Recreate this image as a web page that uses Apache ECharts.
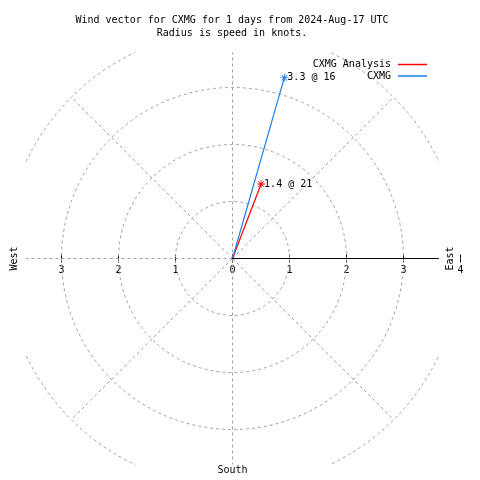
<!DOCTYPE html>
<html>
<head>
<meta charset="utf-8">
<script src="https://cdn.jsdelivr.net/npm/echarts@6/dist/echarts.min.js"></script>
<style>html,body{margin:0;padding:0;background:#fff}#c{width:480px;height:480px}</style>
</head>
<body>
<div id="c"></div>
<script>
// ---- data ----
const seriesNames = ['CXMG Analysis', 'CXMG'];
const windSpeed = [1.4, 3.3];          // knots
const windDir = [21, 16];              // degrees clockwise from north
const seriesColors = ['#ff0000', '#1a80e8'];
const ringValues = [1, 2, 3, 4];       // knots
const spokeAngles = [0, 45, 90, 135, 180, 225, 270, 315];
const tickValues = [-3, -2, -1, 0, 1, 2, 3, 4];
const titleText = 'Wind vector for CXMG for 1 days from 2024-Aug-17 UTC\nRadius is speed in knots.';

// ---- layout ----
const PX = 57;           // pixels per knot
const CX = 232.5, CY = 258.5;
const HALF = 206;        // half size of plotting box (px)
const R = HALF / PX;     // knots shown to box edge
const FONT = 'DejaVu Sans Mono';
const GRID_COLOR = '#a0a0a0';

const chart = echarts.init(document.getElementById('c'), null, {renderer: 'canvas'});

const rad = d => d * Math.PI / 180;

const vectorSeries = seriesNames.map((name, i) => {
  const s = windSpeed[i], d = windDir[i];
  return {
    name: name,
    type: 'line',
    xAxisIndex: 0, yAxisIndex: 0,
    z: 5,
    data: [
      {value: [0, 0], symbol: 'none'},
      {value: [s * Math.sin(rad(d)), s * Math.cos(rad(d))],
       label: {show: true, formatter: s.toFixed(1) + ' @ ' + d}}
    ],
    symbol: 'path://M4.5,0h1v10h-1z M0,4.5h10v1h-10z M1.1,1.8l0.7,-0.7l7.1,7.1l-0.7,0.7z M8.2,1.1l0.7,0.7l-7.1,7.1l-0.7,-0.7z',
    symbolSize: 8,
    showAllSymbol: true,
    lineStyle: {color: seriesColors[i], width: 1.2},
    itemStyle: {color: seriesColors[i], borderWidth: 0},
    label: {position: 'right', distance: -1, color: '#000', fontFamily: FONT, fontSize: 10},
    emphasis: {disabled: true},
    animation: false
  };
});

const option = {
  animation: false,
  backgroundColor: '#fff',
  title: {
    text: titleText,
    left: 227, top: 9, textAlign: 'center',
    textStyle: {fontFamily: FONT, fontSize: 10, fontWeight: 'normal', color: '#000', lineHeight: 13}
  },
  legend: {
    data: seriesNames.map(n => ({name: n})),
    orient: 'vertical',
    right: 53, top: 59, padding: 0,
    align: 'right',
    icon: 'rect',
    itemWidth: 29, itemHeight: 1.5,
    itemGap: 0.5,
    textStyle: {fontFamily: FONT, fontSize: 10, color: '#000', lineHeight: 11, padding: [0, 2, 0, 0]}
  },
  grid: [
    {left: CX - HALF, top: CY - HALF, width: 2 * HALF, height: 2 * HALF},
    {left: CX - 4 * PX, top: 0, width: 8 * PX, height: CY},
    {left: CX, top: 0, width: HALF, height: CY}
  ],
  xAxis: [
    {gridIndex: 0, type: 'value', min: -R, max: R, show: false},
    {gridIndex: 1, type: 'value', min: -4, max: 4, position: 'bottom',
     axisLine: {show: false}, splitLine: {show: false},
     axisTick: {show: true, customValues: tickValues, length: 4, lineStyle: {color: '#000'}},
     axisLabel: {show: true, customValues: tickValues, formatter: v => String(Math.abs(v)), margin: 7,
                 fontFamily: FONT, fontSize: 10, color: '#000'}},
    {gridIndex: 1, type: 'value', min: -4, max: 4, position: 'bottom',
     axisLine: {show: false}, splitLine: {show: false},
     axisTick: {show: true, inside: true, customValues: tickValues, length: 4, lineStyle: {color: '#000'}},
     axisLabel: {show: false}},
    {gridIndex: 2, type: 'value', min: 0, max: 1, position: 'bottom', z: 10,
     axisLine: {show: true, onZero: false, lineStyle: {color: '#000', width: 1}},
     axisTick: {show: false}, axisLabel: {show: false}, splitLine: {show: false}}
  ],
  yAxis: [
    {gridIndex: 0, type: 'value', min: -R, max: R, show: false},
    {gridIndex: 1, type: 'value', show: false},
    {gridIndex: 2, type: 'value', show: false}
  ],
  graphic: [
    {type: 'text', x: 14, y: CY, rotation: Math.PI / 2,
     style: {text: 'West', font: '10px ' + FONT, fill: '#000', align: 'center', verticalAlign: 'middle'}},
    {type: 'text', x: 450, y: CY, rotation: Math.PI / 2,
     style: {text: 'East', font: '10px ' + FONT, fill: '#000', align: 'center', verticalAlign: 'middle'}},
    {type: 'text', x: CX, y: 470,
     style: {text: 'South', font: '10px ' + FONT, fill: '#000', align: 'center', verticalAlign: 'middle'}}
  ],
  series: [
    {
      type: 'custom', xAxisIndex: 0, yAxisIndex: 0, clip: true, silent: true, z: 1,
      data: ringValues.map(v => [v]),
      renderItem: (params, api) => {
        const r = api.value(0);
        const c = api.coord([0, 0]);
        const rr = api.size([r, 0])[0];
        return {type: 'circle', shape: {cx: c[0], cy: c[1], r: rr},
                style: {fill: 'none', stroke: GRID_COLOR, lineWidth: 1, lineDash: [3, 3]}};
      }
    },
    {
      type: 'custom', xAxisIndex: 0, yAxisIndex: 0, clip: true, silent: true, z: 1,
      data: spokeAngles.map(a => [a]),
      renderItem: (params, api) => {
        const a = rad(api.value(0));
        const c = api.coord([0, 0]);
        const e = api.coord([4 * Math.sin(a), 4 * Math.cos(a)]);
        return {type: 'line', shape: {x1: c[0], y1: c[1], x2: e[0], y2: e[1]},
                style: {stroke: GRID_COLOR, lineWidth: 1, lineDash: [3, 3]}};
      }
    }
  ].concat(vectorSeries)
};

chart.setOption(option);
</script>
</body>
</html>
